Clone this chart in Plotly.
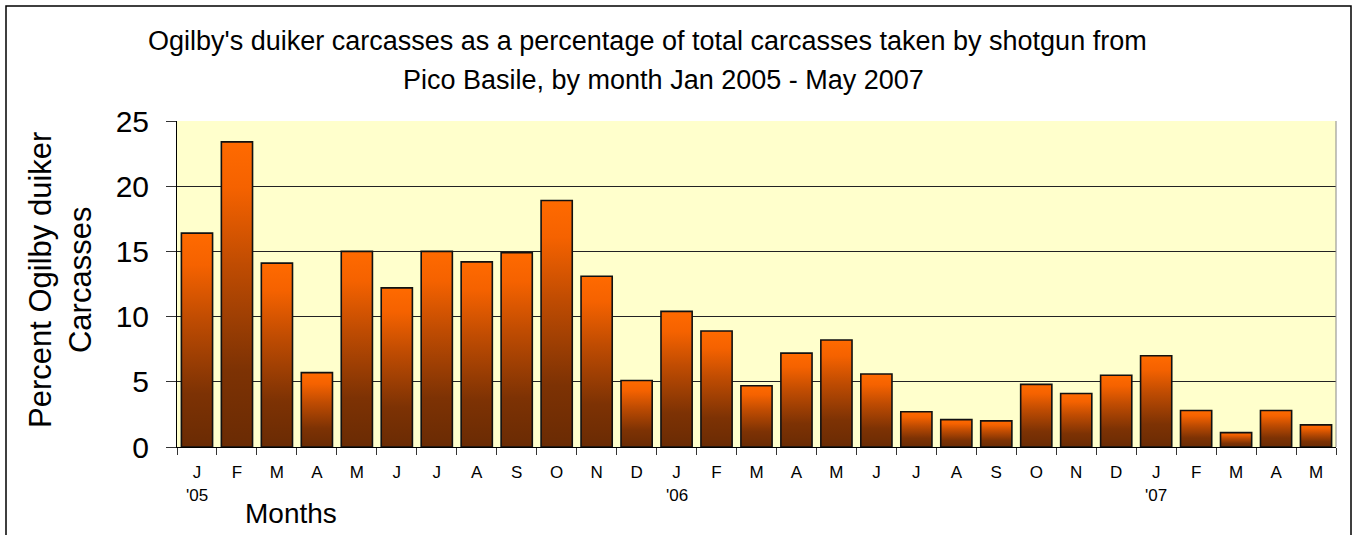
import plotly.graph_objects as go

# Monthly share of Ogilby's duiker among shotgun-hunted carcasses, Pico Basile
months = ["J", "F", "M", "A", "M", "J", "J", "A", "S", "O", "N", "D",
          "J", "F", "M", "A", "M", "J", "J", "A", "S", "O", "N", "D",
          "J", "F", "M", "A", "M"]
percent = [16.4, 23.4, 14.1, 5.7, 15.0, 12.2, 15.0, 14.2, 14.9, 18.9, 13.1, 5.1,
           10.4, 8.9, 4.7, 7.2, 8.2, 5.6, 2.7, 2.1, 2.0, 4.8, 4.1, 5.5,
           7.0, 2.8, 1.1, 2.8, 1.7]
year_labels = ["'05", "'06", "'07"]
year_start_index = [0, 12, 24]
y_ticks = [0, 5, 10, 15, 20, 25]
title_lines = ["Ogilby's duiker carcasses as a percentage of total carcasses taken by shotgun from",
               "Pico Basile, by month Jan 2005 - May 2007"]

W, H = 1355, 535
ML, MR, MT, MB = 177, 19, 121, 88
PW, PH = W - ML - MR, H - MT - MB


def xp(px):
    return (px - ML) / PW


def yp(py):
    return (H - MB - py) / PH


BAR_HALF = 0.39
gradient = [[0.0, "#6A2B04"], [0.25, "#7D3204"], [0.6, "#C04C02"],
            [0.85, "#F56200"], [1.0, "#FF6A00"]]

fig = go.Figure()
for i, v in enumerate(percent):
    fig.add_trace(go.Scatter(
        x=[i - BAR_HALF, i - BAR_HALF, i + BAR_HALF, i + BAR_HALF, i - BAR_HALF],
        y=[0, v, v, 0, 0],
        mode="lines",
        fill="toself",
        fillgradient=dict(type="vertical", colorscale=gradient, start=0, stop=v),
        line=dict(color="#111111", width=1.6),
        hoverinfo="text",
        text=f"{v}",
        showlegend=False,
    ))

fig.update_layout(
    width=W, height=H,
    margin=dict(l=ML, r=MR, t=MT, b=MB),
    paper_bgcolor="white",
    plot_bgcolor="#FFFFCC",
    font=dict(family="Liberation Sans, Arial, sans-serif", color="black"),
    showlegend=False,
    xaxis=dict(
        range=[-0.5, len(percent) - 0.5],
        tickmode="array",
        tickvals=list(range(len(percent))),
        ticktext=months,
        ticks="",
        tickfont=dict(size=17),
        ticklabelstandoff=10,
        showgrid=False,
        zeroline=False,
        showline=True, linecolor="black", linewidth=1,
        minor=dict(tickmode="array",
                   tickvals=[i - 0.5 for i in range(len(percent) + 1)],
                   ticks="outside", ticklen=7, tickcolor="#333333",
                   tickwidth=1, showgrid=False),
        fixedrange=True,
    ),
    yaxis=dict(
        range=[0, 25],
        tickmode="array",
        tickvals=y_ticks,
        ticks="outside", ticklen=10, tickcolor="#333333",
        tickfont=dict(size=30),
        ticklabelstandoff=11,
        showgrid=True, gridcolor="#222222", gridwidth=1,
        zeroline=False,
        showline=True, linecolor="black", linewidth=1,
        fixedrange=True,
    ),
)

# plot-area right edge
fig.add_shape(type="line", xref="paper", yref="paper", x0=1, x1=1, y0=0, y1=1,
              line=dict(color="#888888", width=1))
# chart frame
fig.add_shape(type="rect", xref="paper", yref="paper",
              x0=xp(6), x1=xp(1351), y0=yp(560), y1=yp(6),
              line=dict(color="black", width=1.5), layer="below")

# two-line chart title
for line_text, cx, cy in zip(title_lines, [647, 663], [41, 80]):
    fig.add_annotation(
        text=line_text, xref="paper", yref="paper", x=xp(cx), y=yp(cy),
        xanchor="center", yanchor="middle", showarrow=False, font=dict(size=27),
    )
fig.add_annotation(
    text="Percent Ogilby duiker<br>Carcasses",
    xref="paper", yref="paper", x=xp(60), y=yp(280),
    xanchor="center", yanchor="middle", showarrow=False, textangle=-90,
    font=dict(size=31), align="center",
)
fig.add_annotation(
    text="Months", xref="paper", yref="paper", x=xp(291), y=yp(513),
    xanchor="center", yanchor="middle", showarrow=False, font=dict(size=28),
)
for label, idx in zip(year_labels, year_start_index):
    fig.add_annotation(
        text=label, xref="x", yref="paper", x=idx, y=yp(495),
        xanchor="center", yanchor="middle", showarrow=False, font=dict(size=17),
    )

fig.write_html("out.html")
